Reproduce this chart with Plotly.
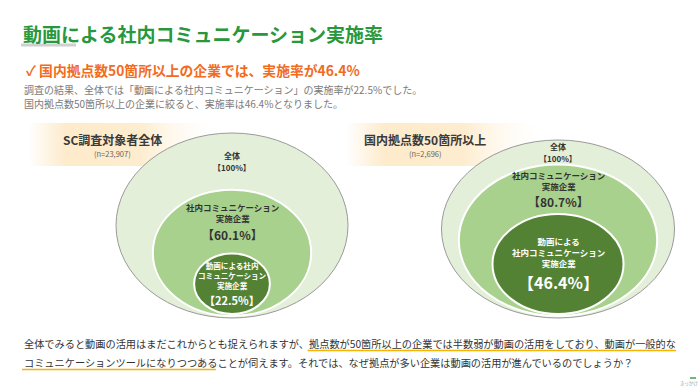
import plotly.graph_objects as go

# ---------------- data ----------------
title_text = "動画による社内コミュニケーション実施率"
headline_text = "✓ 国内拠点数50箇所以上の企業では、実施率が46.4%"
intro_lines = [
    "調査の結果、全体では「動画による社内コミュニケーション」の実施率が22.5%でした。",
    "国内拠点数50箇所以上の企業に絞ると、実施率は46.4%となりました。",
]
panel_titles = ["SC調査対象者全体", "国内拠点数50箇所以上"]
panel_counts = ["(n=23,907)", "(n=2,696)"]
left_values = [100, 60.1, 22.5]
right_values = [100, 80.7, 46.4]
left_labels = ["全体", "社内コミュニケーション<br>実施企業", "動画による社内<br>コミュニケーション<br>実施企業"]
right_labels = ["全体", "社内コミュニケーション<br>実施企業", "動画による<br>社内コミュニケーション<br>実施企業"]
closing_pre = "全体でみると動画の活用はまだこれからとも捉えられますが、"
closing_hl1 = "拠点数が50箇所以上の企業では半数弱が動画の活用をしており、動画が一般的な"
closing_hl2 = "コミュニケーションツールになりつつある"
closing_post = "ことが伺えます。それでは、なぜ拠点が多い企業は動画の活用が進んでいるのでしょうか？"

# ---------------- style / layout ----------------
W, H = 700, 390
FONT = "Noto Sans CJK JP, Noto Sans, DejaVu Sans"
fills = ["#e3efd9", "#a9d18e", "#548235"]
outlines = ["#9a9a9a", "#ffffff", "#ffffff"]
label_colors = ["#333333", "#333333", "#ffffff"]
panels = [
    dict(values=left_values, labels=left_labels, cx=232, bottom=318, w=232, h=185,
         band=(28, 214), tx=112, label_fs=[8, 8.5, 7.6], value_fs=[8, 12, 11]),
    dict(values=right_values, labels=right_labels, cx=558, bottom=318, w=233, h=178,
         band=(346, 540), tx=425, label_fs=[8, 8.5, 8.5], value_fs=[8, 12, 16]),
]
EXP = 0.75

fig = go.Figure()
shapes = []
annotations = []


def ann(x, y, text, size, color, bold=False, xanchor="center", yanchor="middle"):
    t = f"<b>{text}</b>" if bold else text
    annotations.append(dict(x=x, y=y, xref="x", yref="y", text=t, showarrow=False,
                            xanchor=xanchor, yanchor=yanchor,
                            font=dict(family=FONT, size=size, color=color)))


# title & headline
ann(21, 33, title_text, 19, "#28983c", bold=True, xanchor="left")
shapes.append(dict(type="line", xref="x", yref="y", x0=21, x1=76, y0=45, y1=45,
                   line=dict(color="#d0d0d0", width=3)))
ann(24, 70, headline_text, 13.8, "#f26b21", bold=True, xanchor="left")
for i, line in enumerate(intro_lines):
    ann(22, 89 + i * 14, line, 10, "#7a7a7a", xanchor="left")

# panels
for p, ptitle, pcount in zip(panels, panel_titles, panel_counts):
    bx0, bx1 = p["band"]
    fig.add_trace(go.Scatter(
        x=[bx0, bx1, bx1, bx0, bx0], y=[123, 123, 166, 166, 123],
        fill="toself", mode="none", hoverinfo="skip", showlegend=False,
        fillgradient=dict(type="horizontal", colorscale=[
            [0, "rgba(253,233,198,0)"], [0.2, "rgba(253,233,198,0.9)"],
            [0.6, "rgba(253,234,200,0.9)"], [1, "rgba(255,250,240,0)"]])))
    ann(p["tx"], 139, ptitle, 12, "#3a3a3a", bold=True)
    ann(p["tx"], 153, pcount, 7.5, "#666666")

    vals = p["values"]
    geo = []
    for i, v in enumerate(vals):
        s = (v / vals[0]) ** EXP
        w, h = p["w"] * s, p["h"] * s
        b = p["bottom"] - 2 * i
        geo.append((p["cx"] - w / 2, p["cx"] + w / 2, b - h, b))
    for i, (x0, x1, y0, y1) in enumerate(geo):
        shapes.append(dict(type="circle", xref="x", yref="y", x0=x0, x1=x1, y0=y0, y1=y1,
                           fillcolor=fills[i], line=dict(color=outlines[i], width=1 if i == 0 else 2),
                           layer="above"))
    for i, v in enumerate(vals):
        x0, x1, y0, y1 = geo[i]
        if i < len(vals) - 1:
            c = (y0 + geo[i + 1][2]) / 2
        else:
            c = (y0 + y1) / 2
        lab = p["labels"][i]
        n = lab.count("<br>") + 1
        lfs, vfs = p["label_fs"][i], p["value_fs"][i]
        lh, vh = n * lfs * 1.35, vfs * 1.45
        top = c - (lh + vh) / 2
        ann(p["cx"], top + lh / 2, lab, lfs, label_colors[i], bold=True)
        vtxt = f"【{v:g}%】"
        ann(p["cx"], top + lh + vh / 2 + 1, vtxt, vfs, label_colors[i], bold=True)

# closing text with underlines
FS = 10.2
X0 = 22


def tw(s):
    w = 0
    for ch in s:
        w += 0.56 if ord(ch) < 128 else 1.0
    return w * FS


ann(X0, 343, closing_pre + closing_hl1, FS, "#333333", xanchor="left")
ann(X0, 362, closing_hl2 + closing_post, FS, "#333333", xanchor="left")
ul1_x0 = X0 + tw(closing_pre)
ul1_x1 = X0 + tw(closing_pre + closing_hl1)
ul2_x1 = X0 + tw(closing_hl2)
shapes.append(dict(type="line", xref="x", yref="y", x0=ul1_x0, x1=ul1_x1, y0=350.5, y1=350.5,
                   line=dict(color="#f5b400", width=1.5)))
shapes.append(dict(type="line", xref="x", yref="y", x0=X0, x1=ul2_x1, y0=369.5, y1=369.5,
                   line=dict(color="#f5b400", width=1.5)))

# tiny logo at bottom right
shapes.append(dict(type="line", xref="x", yref="y", x0=690, x1=696, y0=378, y1=378,
                   line=dict(color="#3aa14a", width=1.5)))
ann(689, 383, "きっかけ", 4.5, "#999999")

fig.update_layout(
    width=W, height=H, margin=dict(l=0, r=0, t=0, b=0),
    paper_bgcolor="white", plot_bgcolor="white",
    xaxis=dict(range=[0, W], visible=False, fixedrange=True),
    yaxis=dict(range=[H, 0], visible=False, fixedrange=True),
    shapes=shapes, annotations=annotations, showlegend=False,
)
fig.write_html("out.html", config={"displayModeBar": False},
               post_script="document.body.style.margin='0';document.body.style.overflow='hidden';")
